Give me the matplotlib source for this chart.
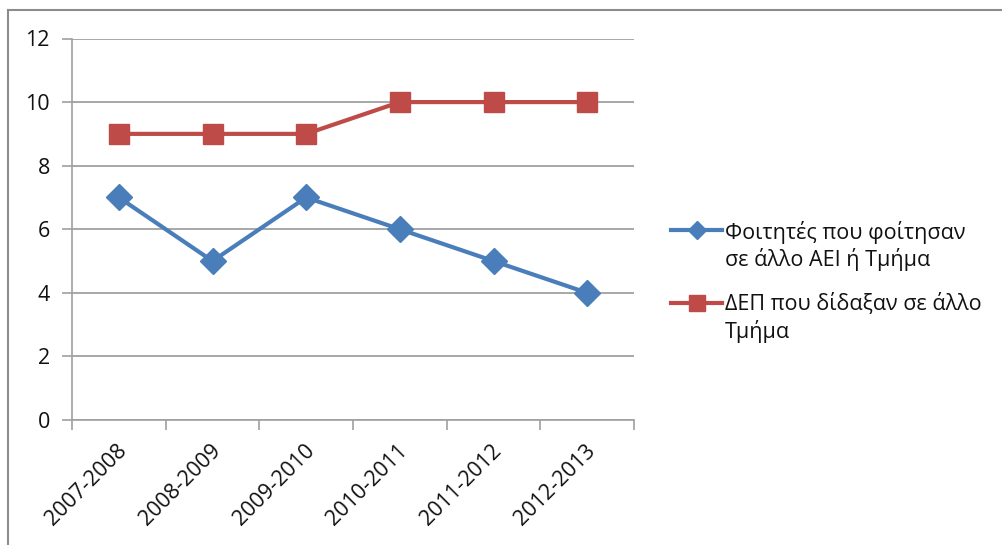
import matplotlib
matplotlib.use('Agg')
import matplotlib.pyplot as plt
import matplotlib.transforms as mtransforms
from matplotlib.lines import Line2D
import numpy as np

# Data
years = ['2007-2008', '2008-2009', '2009-2010', '2010-2011', '2011-2012', '2012-2013']
students = [7, 5, 7, 6, 5, 4]
staff = [9, 9, 9, 10, 10, 10]
label_students = 'Φοιτητές που φοίτησαν\nσε άλλο ΑΕΙ ή Τμήμα'
label_staff = 'ΔΕΠ που δίδαξαν σε άλλο\nΤμήμα'

plt.rcParams['font.family'] = ['Open Sans', 'DejaVu Sans']
plt.rcParams['text.color'] = '#111111'

blue = '#4A7EBB'
red = '#BE4B48'
grey = '#A0A0A0'
fs = 15.5

W, H = 1002, 545
fig = plt.figure(figsize=(W / 100, H / 100), dpi=100)
ax = fig.add_axes([72 / W, 1 - 420 / H, 562 / W, 381.5 / H])

x = np.arange(len(years))
ax.plot(x, students, color=blue, lw=3, marker='D', markersize=13, zorder=3)
ax.plot(x, staff, color=red, lw=3, marker='s', markersize=14, zorder=3)

ax.set_xlim(-0.5, len(years) - 0.5)
ax.set_ylim(0, 12)
ax.set_yticks(range(0, 13, 2))
ax.grid(axis='y', color=grey, lw=1.3)
ax.set_axisbelow(True)

# category ticks sit between categories, labels at centres
ax.set_xticks(np.arange(-0.5, len(years), 1.0))
ax.set_xticklabels([])
ax.set_xticks(x, minor=True)
ax.set_xticklabels(years, minor=True, rotation=45, ha='right', va='center',
                   rotation_mode='anchor', fontsize=fs, color='#111111')
ax.tick_params(axis='x', which='minor', length=0, pad=20)
ax.tick_params(axis='x', which='major', length=7, color=grey, width=1.2)
ax.tick_params(axis='y', length=7, color=grey, width=1.2, labelsize=fs, pad=9,
               labelcolor='#111111')
offset = mtransforms.ScaledTranslation(0.05, 0, fig.dpi_scale_trans)
for lbl in ax.get_xticklabels(minor=True):
    lbl.set_transform(lbl.get_transform() + offset)

for s in ['top', 'right']:
    ax.spines[s].set_visible(False)
for s in ['left', 'bottom']:
    ax.spines[s].set_color(grey)
    ax.spines[s].set_linewidth(1.2)

# legend drawn by hand so the key lines up with the first text line (Excel style)
entries = [(label_students, blue, 'D', 9, 230, 246), (label_staff, red, 's', 11, 303, 318)]
for text, col, mk, ms, yh, yt in entries:
    fig.add_artist(Line2D([671 / W, 722 / W], [1 - yh / H, 1 - yh / H], color=col, lw=3))
    fig.add_artist(Line2D([696.5 / W], [1 - yh / H], color=col, marker=mk, markersize=ms))
    fig.text(725 / W, 1 - yt / H, text, fontsize=fs, va='center', ha='left',
             linespacing=1.25)

# chart border (only top and left visible in the crop)
fig.add_artist(Line2D([8 / W, 8 / W], [0, 1 - 10 / H], color='#8C8C8C', lw=1.5))
fig.add_artist(Line2D([8 / W, 1], [1 - 10 / H, 1 - 10 / H], color='#8C8C8C', lw=1.5))

fig.savefig('out.png', dpi=100)
